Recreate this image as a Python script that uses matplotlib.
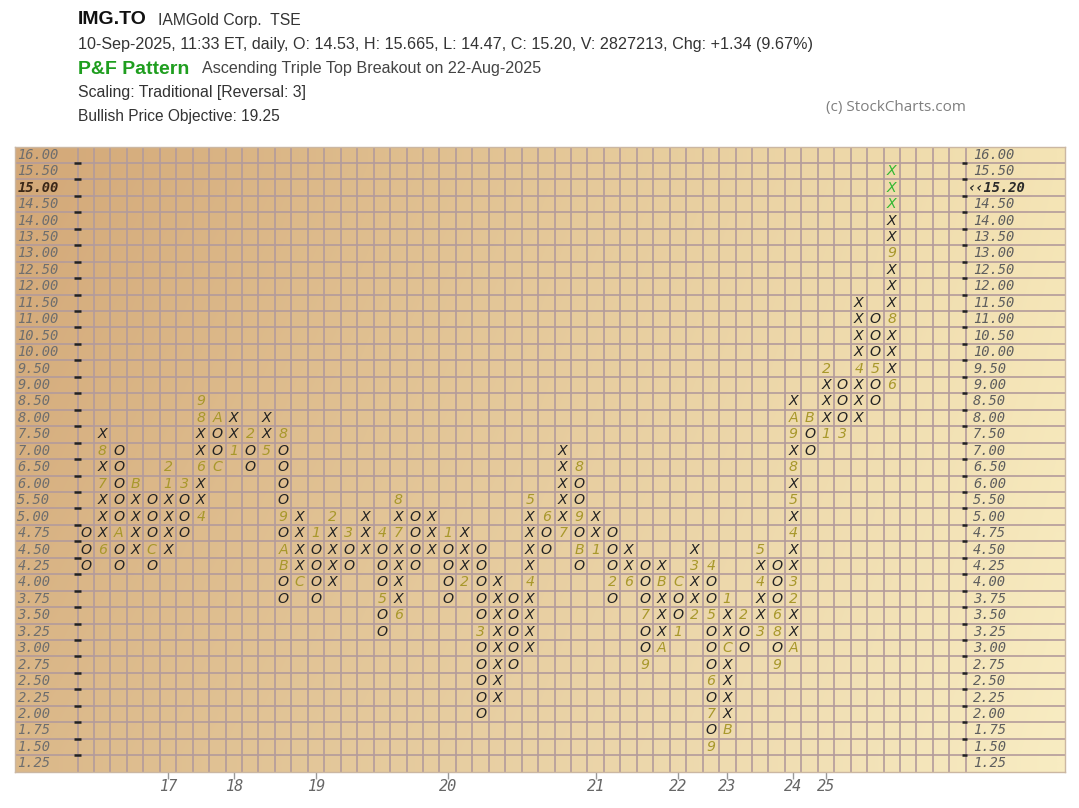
import matplotlib.pyplot as plt
import numpy as np

# price scale of the P&F grid (box 0.50 above 5.00, 0.25 below)
levels = [16.00, 15.50, 15.00, 14.50, 14.00, 13.50, 13.00, 12.50, 12.00, 11.50,
          11.00, 10.50, 10.00, 9.50, 9.00, 8.50, 8.00, 7.50, 7.00, 6.50, 6.00,
          5.50, 5.00, 4.75, 4.50, 4.25, 4.00, 3.75, 3.50, 3.25, 3.00, 2.75,
          2.50, 2.25, 2.00, 1.75, 1.50, 1.25]

# columns: kind, lowest box, highest box
col_kind = 'OXOXOXOXOXOXOXOXOXOXOXOXOXOXOXOXOXOXOXOXOXOXOXOXOX'
col_low = [4.25, 4.50, 4.25, 4.50, 4.25, 4.50, 4.75, 5.00, 6.50, 7.00,
           6.50, 7.00, 3.75, 4.00, 3.75, 4.00, 4.25, 4.50, 3.25, 3.50,
           4.25, 4.50, 3.75, 4.00, 2.00, 2.25, 2.75, 3.00, 4.50, 4.75,
           4.25, 4.50, 3.75, 4.00, 2.75, 3.00, 3.25, 3.50, 1.50, 1.75,
           3.00, 3.25, 2.75, 3.00, 7.00, 7.50, 7.50, 8.00, 8.50, 9.00]
col_high = [4.75, 7.50, 7.00, 6.00, 5.50, 6.50, 6.00, 8.50, 8.00, 8.00,
            7.50, 8.00, 7.50, 5.00, 4.75, 5.00, 4.75, 5.00, 4.75, 5.50,
            5.00, 5.00, 4.75, 4.75, 4.50, 4.00, 3.75, 5.50, 5.00, 7.00,
            6.50, 5.00, 4.75, 4.50, 4.25, 4.25, 4.00, 4.50, 4.25, 3.75,
            3.50, 4.50, 4.25, 8.50, 8.00, 9.50, 9.00, 11.50, 11.00, 15.50]

# month markers (1-9, A=Oct, B=Nov, C=Dec) that replace a box
month_marks = {
    1: {4.50: '6', 6.00: '7', 7.00: '8'},
    2: {4.75: 'A'},
    3: {6.00: 'B'},
    4: {4.50: 'C'},
    5: {6.00: '1', 6.50: '2'},
    6: {6.00: '3'},
    7: {5.00: '4', 6.50: '6', 8.00: '8', 8.50: '9'},
    8: {8.00: 'A', 6.50: 'C'},
    9: {7.00: '1'},
    10: {7.50: '2'},
    11: {7.00: '5'},
    12: {7.50: '8', 5.00: '9', 4.50: 'A', 4.25: 'B'},
    13: {4.00: 'C'},
    14: {4.75: '1'},
    15: {5.00: '2'},
    16: {4.75: '3'},
    18: {4.75: '4', 3.75: '5'},
    19: {3.50: '6', 4.75: '7', 5.50: '8'},
    22: {4.75: '1'},
    23: {4.00: '2'},
    24: {3.25: '3'},
    27: {4.00: '4', 5.50: '5'},
    28: {5.00: '6'},
    29: {4.75: '7'},
    30: {6.50: '8', 5.00: '9', 4.50: 'B'},
    31: {4.50: '1'},
    32: {4.00: '2'},
    33: {4.00: '6'},
    34: {3.50: '7', 2.75: '9'},
    35: {3.00: 'A', 4.00: 'B'},
    36: {4.00: 'C', 3.25: '1'},
    37: {3.50: '2', 4.25: '3'},
    38: {4.25: '4', 3.50: '5', 2.50: '6', 2.00: '7', 1.50: '9'},
    39: {1.75: 'B', 3.00: 'C', 3.75: '1'},
    40: {3.50: '2'},
    41: {3.25: '3', 4.00: '4', 4.50: '5'},
    42: {3.50: '6', 3.25: '8', 2.75: '9'},
    43: {3.00: 'A', 3.75: '2', 4.00: '3', 4.75: '4', 5.50: '5', 6.50: '8',
         7.50: '9', 8.00: 'A'},
    44: {8.00: 'B'},
    45: {7.50: '1', 9.50: '2'},
    46: {7.50: '3'},
    47: {9.50: '4'},
    48: {9.50: '5'},
    49: {9.00: '6', 11.00: '8', 13.00: '9'},
}
today_boxes = [14.50, 15.00, 15.50]   # drawn green in last column

years = ['17', '18', '19', '20', '21', '22', '23', '24', '25']
year_cols = [5, 9, 14, 22, 31, 36, 39, 43, 45]

last_price = '15.20'
last_level = 15.00

n_cols = 54
n_rows = len(levels)
x_left, x_right = -3.8, 60.03

W, H = 1079, 808
fig = plt.figure(figsize=(W / 100, H / 100), dpi=100)
ax = fig.add_axes([15 / W, 1 - 771.6 / H, 1050 / W, 625.1 / H])

# tan background gradient
gx, gy = np.meshgrid(np.linspace(0, 1, 64), np.linspace(0, 1, 16))
tl = np.array([0xd3, 0xa8, 0x78]) / 255
tr = np.array([0xf4, 0xe4, 0xb5]) / 255
bl = np.array([0xdb, 0xb8, 0x89]) / 255
br = np.array([0xf8, 0xec, 0xc2]) / 255
img = ((1 - gx) * (1 - gy))[..., None] * tl + (gx * (1 - gy))[..., None] * tr \
    + ((1 - gx) * gy)[..., None] * bl + (gx * gy)[..., None] * br
ax.imshow(img, extent=(x_left, x_right, n_rows, 0), aspect='auto',
          interpolation='bilinear', zorder=0)

grid_c = '#b39b9b'
ax.vlines(np.arange(0, n_cols + 1), 0, n_rows, color=grid_c, lw=1.2, zorder=1)
ax.hlines(np.arange(1, n_rows), x_left, x_right, color=grid_c, lw=1.2, zorder=1)
ax.hlines(np.arange(1, n_rows), -0.22, 0.2, color='#222222', lw=1.8, zorder=2)
ax.hlines(np.arange(1, n_rows), n_cols - 0.25, n_cols + 0.05, color='#222222',
          lw=1.8, zorder=2)

# price labels
mono = dict(family='DejaVu Sans Mono', style='italic', fontsize=9.9)
for r, p in enumerate(levels):
    txt = f'{p:.2f}'
    if p == last_level:
        ax.text(x_left + 0.15, r + 0.5, txt, ha='left', va='center',
                color='#3a2718', fontweight='bold', **mono)
        ax.text(n_cols + 0.14, r + 0.5, '\u2039\u2039' + last_price,
                ha='left', va='center', color='#2a2a2a', fontweight='bold', **mono)
    else:
        ax.text(x_left + 0.15, r + 0.5, txt, ha='left', va='center',
                color='#6e6e6e', **mono)
        ax.text(n_cols + 0.45, r + 0.5, txt, ha='left', va='center',
                color='#5e5e5e', **mono)

# X and O boxes
box_font = dict(family='DejaVu Sans', style='italic', fontsize=10.2)
for i, kind in enumerate(col_kind):
    marks = month_marks.get(i, {})
    for r, p in enumerate(levels):
        if col_low[i] <= p <= col_high[i]:
            if p in marks:
                ch, c = marks[p], '#a8982c'
            elif i == len(col_kind) - 1 and p in today_boxes:
                ch, c = kind, '#33b833'
            else:
                ch, c = kind, '#232323'
            ax.text(i + 0.5, r + 0.5, ch, ha='center', va='center', color=c,
                    zorder=3, **box_font)

ax.set_xlim(x_left, x_right)
ax.set_ylim(n_rows, 0)
ax.set_yticks([])
ax.set_xticks([c + 0.5 for c in year_cols])
ax.set_xticklabels(years, family='DejaVu Sans Mono', style='italic',
                   fontsize=11, color='#666666')
ax.tick_params(axis='x', direction='out', length=5, width=1, color='#999999', pad=0.5)
for s in ax.spines.values():
    s.set_color('#cbb7a2')
    s.set_linewidth(1)

# header
sans = 'Liberation Sans'
def px(x, y):
    return x / W, 1 - y / H

fig.text(*px(78, 19), 'IMG.TO', family=sans, fontweight='bold', fontsize=14,
         va='center', color='#111111')
fig.text(*px(158, 20), 'IAMGold Corp.  TSE', family=sans, fontsize=11.3,
         va='center', color='#333333')
fig.text(*px(78, 45), '10-Sep-2025, 11:33 ET, daily, O: 14.53, H: 15.665, '
         'L: 14.47, C: 15.20, V: 2827213, Chg: +1.34 (9.67%)',
         family=sans, fontsize=11.6, va='center', color='#333333')
fig.text(*px(78, 69), 'P&F Pattern', family=sans, fontweight='bold',
         fontsize=14, va='center', color='#1f9e1f')
fig.text(*px(202, 69), 'Ascending Triple Top Breakout on 22-Aug-2025',
         family=sans, fontsize=11.6, va='center', color='#444444')
fig.text(*px(78, 93), 'Scaling: Traditional [Reversal: 3]', family=sans,
         fontsize=11.4, va='center', color='#333333')
fig.text(*px(78, 117), 'Bullish Price Objective: 19.25', family=sans,
         fontsize=11.2, va='center', color='#333333')
fig.text(*px(826, 108), '(c) StockCharts.com', family='Open Sans',
         fontsize=11, va='center', color='#7f7f7f')

fig.savefig('out.png', dpi=100)
